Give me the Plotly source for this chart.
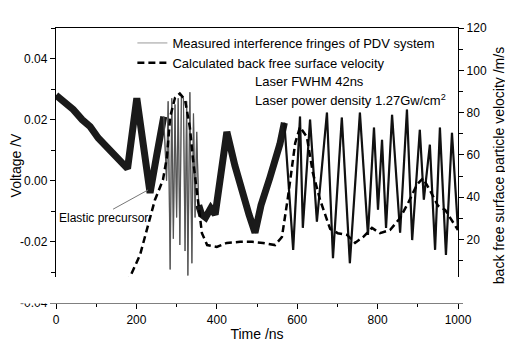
import plotly.graph_objects as go

# ---------------- data ----------------
# Measured interference fringes (voltage, V) vs time (ns)
meas_t = [0, 20, 43, 65, 85, 105, 126, 145, 160, 178, 201, 217, 234, 250, 268,
          275, 279, 284, 288, 292, 296, 300, 304, 308, 312, 317, 321, 325, 328,
          333, 338, 342, 346, 350, 355,
          362, 372, 385, 396, 410, 425, 445, 465, 480, 495, 510, 532, 557, 568,
          590, 607, 614, 632, 649, 674, 689, 711, 731, 756, 776, 791, 801, 811,
          821, 836, 856, 873, 886, 905, 915, 930, 943, 955, 970, 985, 1000]
meas_v = [0.028, 0.026, 0.0233, 0.020, 0.0177, 0.014, 0.0112, 0.008, 0.006, 0.004,
          0.027, 0.012, -0.004, 0.008, 0.021,
          0.000, 0.026, -0.029, 0.027, -0.019, 0.025, -0.012, 0.027, -0.021, 0.028,
          0.027, -0.023, 0.026, -0.031, 0.029, -0.027, 0.022, -0.012, 0.016, -0.008,
          -0.011, -0.012, -0.009, -0.011, 0.004, 0.016, 0.005, -0.005, -0.011, -0.017,
          -0.008, 0.001, 0.012, 0.019,
          -0.0226, 0.021, -0.0154, 0.020, -0.0134, 0.0223, -0.0253, 0.0207, -0.027,
          0.0223, -0.0177, 0.0174, -0.0095, 0.0134, -0.0154, 0.0216, -0.017, 0.0233,
          -0.0194, 0.0167, -0.0062, 0.0118, -0.0226, 0.0174, -0.0243, 0.0157, -0.016]

# Calculated back free surface velocity (m/s) vs time (ns)
vel_t = [150, 170, 184, 209, 229, 246, 259, 266, 276, 284, 296, 308, 321, 333, 341,
         353, 363, 376, 400, 425, 458, 488, 515, 545, 562, 577, 595, 607, 624, 639,
         657, 682, 701, 724, 744, 764, 786, 806, 831, 856, 876, 898, 913, 930, 950,
         968, 988, 1000]
vel_v = [-10, -3, 2.3, 12.7, 26.9, 38.7, 44.8, 48.2, 59, 78, 87, 89, 86, 73, 57.6,
         38.7, 23, 17.4, 16.5, 18.4, 18.9, 18.9, 18.4, 17.4, 21.2, 40, 65.6, 73.2, 68.5, 51.5,
         38.7, 25, 23, 22.2, 18.4, 21.2, 25.5, 23, 24.5, 30.2, 37.3, 46, 49, 43.4, 36,
         34, 28.3, 24.5]

# ticks
x_ticks = [0, 200, 400, 600, 800, 1000]
y1_ticks = [-0.04, -0.02, 0.00, 0.02, 0.04]
y1_ticktext = ["-0.04", "-0.02", "0.00", "0.02", "0.04"]
y2_ticks = [20, 40, 60, 80, 100, 120]

# annotation anchors
precursor_text_pos = (119, -0.0122)
precursor_line = (142, -0.0093, 229, -0.0030)

# ---------------- figure ----------------
FONT = "Liberation Sans, Arial, sans-serif"

# split the measured series into the noisy slow parts (dark band), the fast burst and the late fringes
slow_v = [v if (t <= 270 or 352 <= t <= 570) else None for t, v in zip(meas_t, meas_v)]
fast_v = [v if 268 <= t <= 355 else None for t, v in zip(meas_t, meas_v)]
late_v = [v if t >= 568 else None for t, v in zip(meas_t, meas_v)]

fig = go.Figure()
fig.add_trace(go.Scatter(
    x=meas_t, y=meas_v, mode="lines",
    name="Measured interference fringes of PDV system",
    line=dict(color="#9a9a9a", width=1)))
fig.add_trace(go.Scatter(
    x=meas_t, y=slow_v, mode="lines", showlegend=False, connectgaps=False,
    line=dict(color="#1a1a1a", width=7)))
fig.add_trace(go.Scatter(
    x=meas_t, y=fast_v, mode="lines", showlegend=False, connectgaps=False,
    line=dict(color="#555555", width=1.2)))
fig.add_trace(go.Scatter(
    x=meas_t, y=late_v, mode="lines", showlegend=False, connectgaps=False,
    line=dict(color="#111111", width=2.2)))
fig.add_trace(go.Scatter(
    x=vel_t, y=vel_v, mode="lines", yaxis="y2",
    name="Calculated back free surface velocity",
    line=dict(color="black", width=2.5, dash="7px,4px")))

axis_common = dict(showgrid=False, zeroline=False, linecolor="black", linewidth=1.3,
                   ticks="outside", ticklen=5, tickwidth=1.2, tickcolor="black",
                   automargin=False,
                   tickfont=dict(family=FONT, size=12, color="black"))

# the page body adds an 8px offset, so the figure is sized/margined to compensate
fig.update_layout(
    width=505, height=347,
    margin=dict(l=48, r=55, t=20, b=52),
    paper_bgcolor="white", plot_bgcolor="white",
    font=dict(family=FONT, color="black"),
    xaxis=dict(range=[0, 1000], tickvals=x_ticks, showline=True, mirror=True,
               minor=dict(ticks="outside", dtick=100, ticklen=3, tickcolor="black"),
               title=dict(text="Time /ns", font=dict(family=FONT, size=14), standoff=3),
               **axis_common),
    yaxis=dict(range=[-0.04, 0.05], tickvals=y1_ticks, ticktext=y1_ticktext, showline=True,
               minor=dict(ticks="outside", dtick=0.01, tick0=0, ticklen=4, tickcolor="black"),
               title=dict(text="Voltage /V", font=dict(family=FONT, size=14), standoff=0),
               **axis_common),
    yaxis2=dict(range=[-10, 120], tickvals=y2_ticks, overlaying="y", side="right", showline=True,
                minor=dict(ticks="outside", dtick=10, tick0=0, ticklen=4, tickcolor="black"),
                title=dict(text="back free surface particle velocity /m/s",
                           font=dict(family=FONT, size=14), standoff=8),
                **axis_common),
    legend=dict(x=0.19, y=1.0, xanchor="left", yanchor="top", bgcolor="rgba(0,0,0,0)",
                font=dict(family=FONT, size=13, color="black"), tracegroupgap=0),
    showlegend=True,
)

fig.add_annotation(x=0.49, y=0.807, xref="paper", yref="paper", xanchor="left", yanchor="middle",
                   text="Laser FWHM 42ns", showarrow=False, font=dict(family=FONT, size=13))
fig.add_annotation(x=0.49, y=0.738, xref="paper", yref="paper", xanchor="left", yanchor="middle",
                   text="Laser power density 1.27Gw/cm<sup>2</sup>", showarrow=False,
                   font=dict(family=FONT, size=13))
fig.add_annotation(x=precursor_text_pos[0], y=precursor_text_pos[1], xref="x", yref="y",
                   text="Elastic precursor", showarrow=False, font=dict(family=FONT, size=12))
fig.add_shape(type="line", xref="x", yref="y",
              x0=precursor_line[0], y0=precursor_line[1], x1=precursor_line[2], y1=precursor_line[3],
              line=dict(color="#777777", width=1))

# white band crossing the lower part of the picture (as in the reference scan)
fig.add_shape(type="rect", xref="paper", yref="paper", x0=-0.12, x1=1.2,
              y0=-0.002, y1=0.0945, fillcolor="white", line=dict(width=0), layer="above")

fig.write_html("out.html")
